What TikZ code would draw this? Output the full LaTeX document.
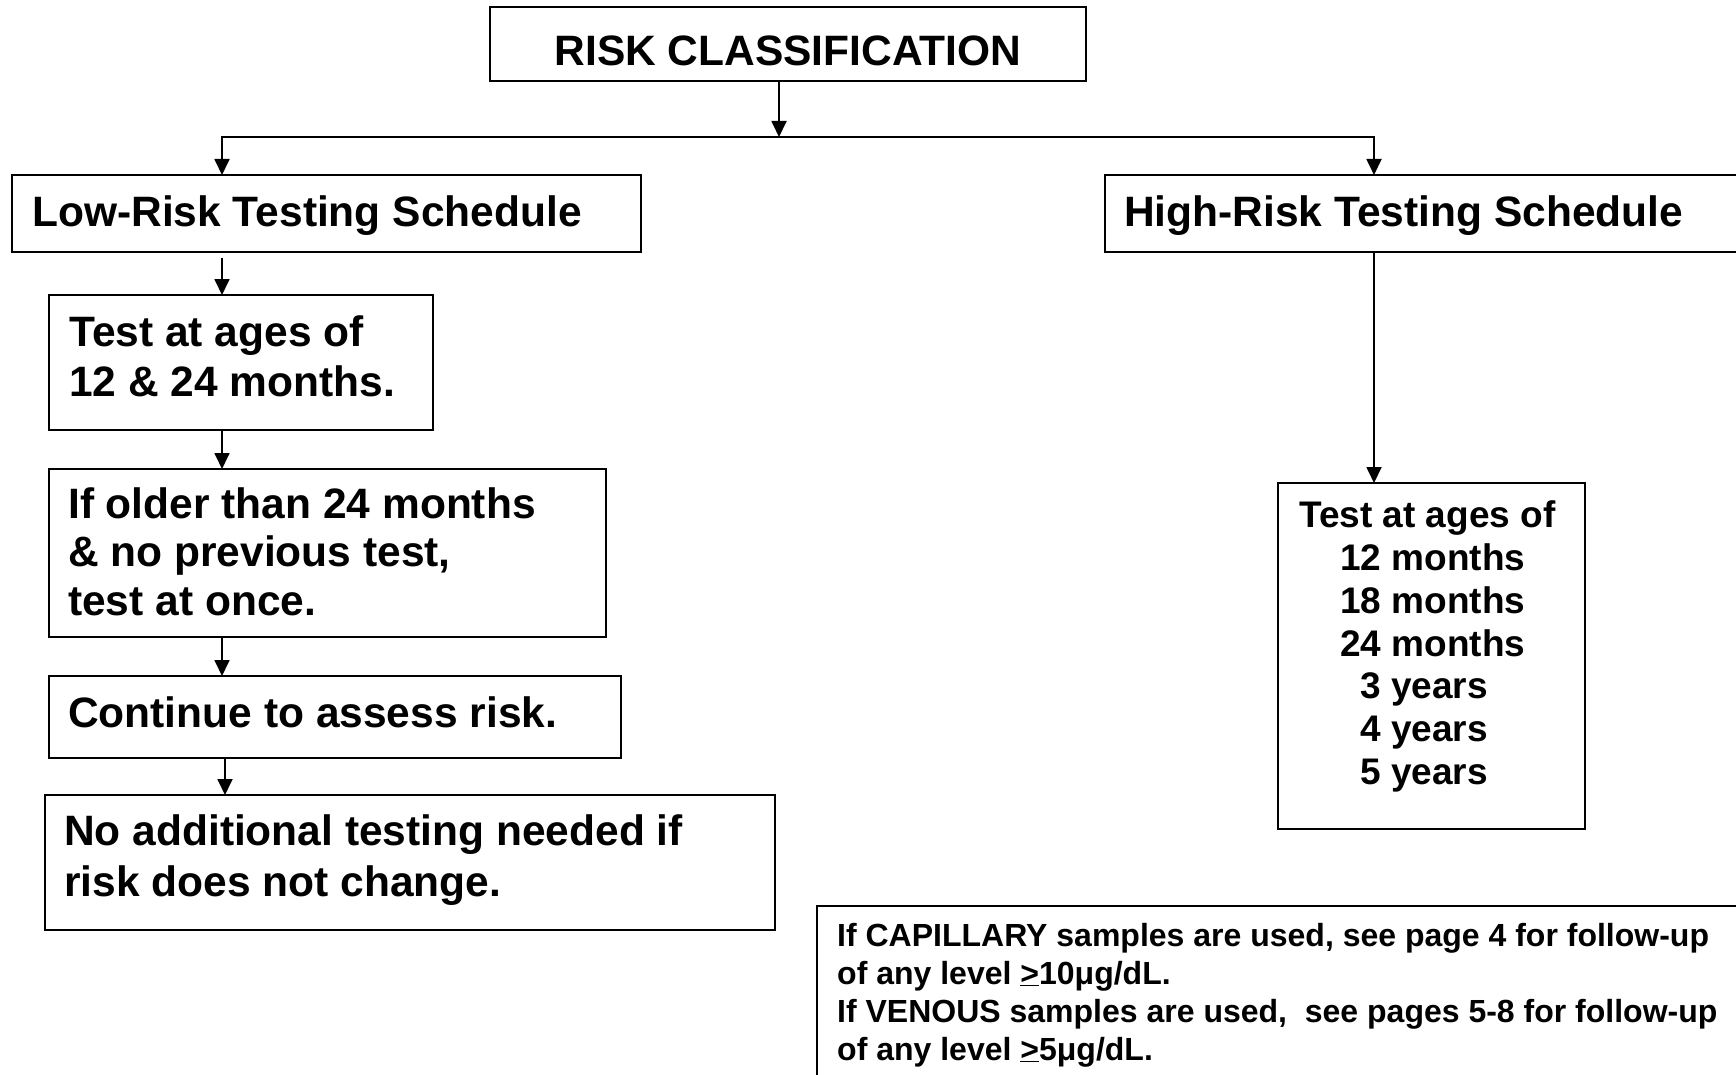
\documentclass[tikz,border=0pt]{standalone}
\usepackage{fontspec}
\setmainfont{Liberation Sans}
\usetikzlibrary{arrows.meta}
\begin{document}
\begin{tikzpicture}[x=1pt,y=-1pt,
  box/.style={draw, line width=1.8pt, inner sep=0pt, outer sep=0pt, anchor=north west},
  arr/.style={line width=1.8pt, -{Triangle[width=15pt,length=16pt]}},
  big/.style={inner sep=0pt, anchor=base west, font=\bfseries\fontsize{42.5}{49}\selectfont},
  mid/.style={inner sep=0pt, anchor=base west, font=\bfseries\fontsize{37}{43}\selectfont},
  small/.style={inner sep=0pt, anchor=base west, font=\bfseries\fontsize{32}{38}\selectfont}]
\useasboundingbox (0,0) rectangle (1736,1075);
\fill[white] (0,0) rectangle (1736,1075);

% boxes
\node[box, minimum width=596pt, minimum height=74pt] (top) at (490,7) {};
\node[box, minimum width=629pt, minimum height=77pt] (low) at (12,175) {};
\node[box, minimum width=640pt, minimum height=77pt] (high) at (1105,175) {};
\node[box, minimum width=384pt, minimum height=135pt] (b1) at (49,295) {};
\node[box, minimum width=557pt, minimum height=168pt] (b2) at (49,469) {};
\node[box, minimum width=572pt, minimum height=82pt] (b3) at (49,676) {};
\node[box, minimum width=730pt, minimum height=135pt] (b4) at (45,795) {};
\node[box, minimum width=307pt, minimum height=346pt] (hb) at (1278,483) {};
\node[box, minimum width=930pt, minimum height=180pt] (note) at (817,906) {};

% connector guides
\coordinate (tspine) at (779,0);
\coordinate (spine) at (222,0);
\coordinate (spineB) at (225,0);
\coordinate (hspine) at (1374,0);
\coordinate (bar) at (0,137);

\draw[arr] (top.south -| tspine) -- (bar -| tspine);
\draw[arr] (bar -| tspine) -| (low.north -| spine);
\draw[arr] (bar -| tspine) -| (high.north -| hspine);
\draw[arr] ([yshift=-6pt]low.south -| spine) -- (b1.north -| spine);
\draw[arr] (b1.south -| spine) -- (b2.north -| spine);
\draw[arr] (b2.south -| spine) -- (b3.north -| spine);
\draw[arr] (b3.south -| spineB) -- (b4.north -| spineB);
\draw[arr] (high.south -| hspine) -- (hb.north -| hspine);

% texts
\node[big, anchor=base] (tTop) at (788,66) {RISK CLASSIFICATION};
\node[big] (tLow) at (32,227) {Low-Risk Testing Schedule};
\node[big] (tHigh) at (1124,227) {High-Risk Testing Schedule};

\node[big] (t1a) at (69,346) {Test at ages of};
\node[big] (t1b) at (69,396) {12 \& 24 months.};

\node[big] (t2a) at (68,518) {If older than 24 months};
\node[big] (t2b) at (68,566) {\& no previous test,};
\node[big] (t2c) at (68,615) {test at once.};

\node[big] (t3) at (68,727) {Continue to assess risk.};

\node[big] (t4a) at (64,845) {No additional testing needed if};
\node[big] (t4b) at (64,896) {risk does not change.};

\node[mid] (h0) at (1299,527) {Test at ages of};
\node[mid] (h1) at (1340,570) {12 months};
\node[mid] (h2) at (1340,613) {18 months};
\node[mid] (h3) at (1340,656) {24 months};
\node[mid] (h4) at (1360,698) {3 years};
\node[mid] (h5) at (1360,741) {4 years};
\node[mid] (h6) at (1360,784) {5 years};

\node[small] (n1) at (837,946) {If CAPILLARY samples are used, see page 4 for follow-up};
\node[small] (n2) at (837,984) {of any level \underline{>}10μg/dL.};
\node[small] (n3) at (837,1022) {If VENOUS samples are used,\ \ see pages 5-8 for follow-up};
\node[small] (n4) at (837,1060) {of any level \underline{>}5μg/dL.};
\end{tikzpicture}
\end{document}
